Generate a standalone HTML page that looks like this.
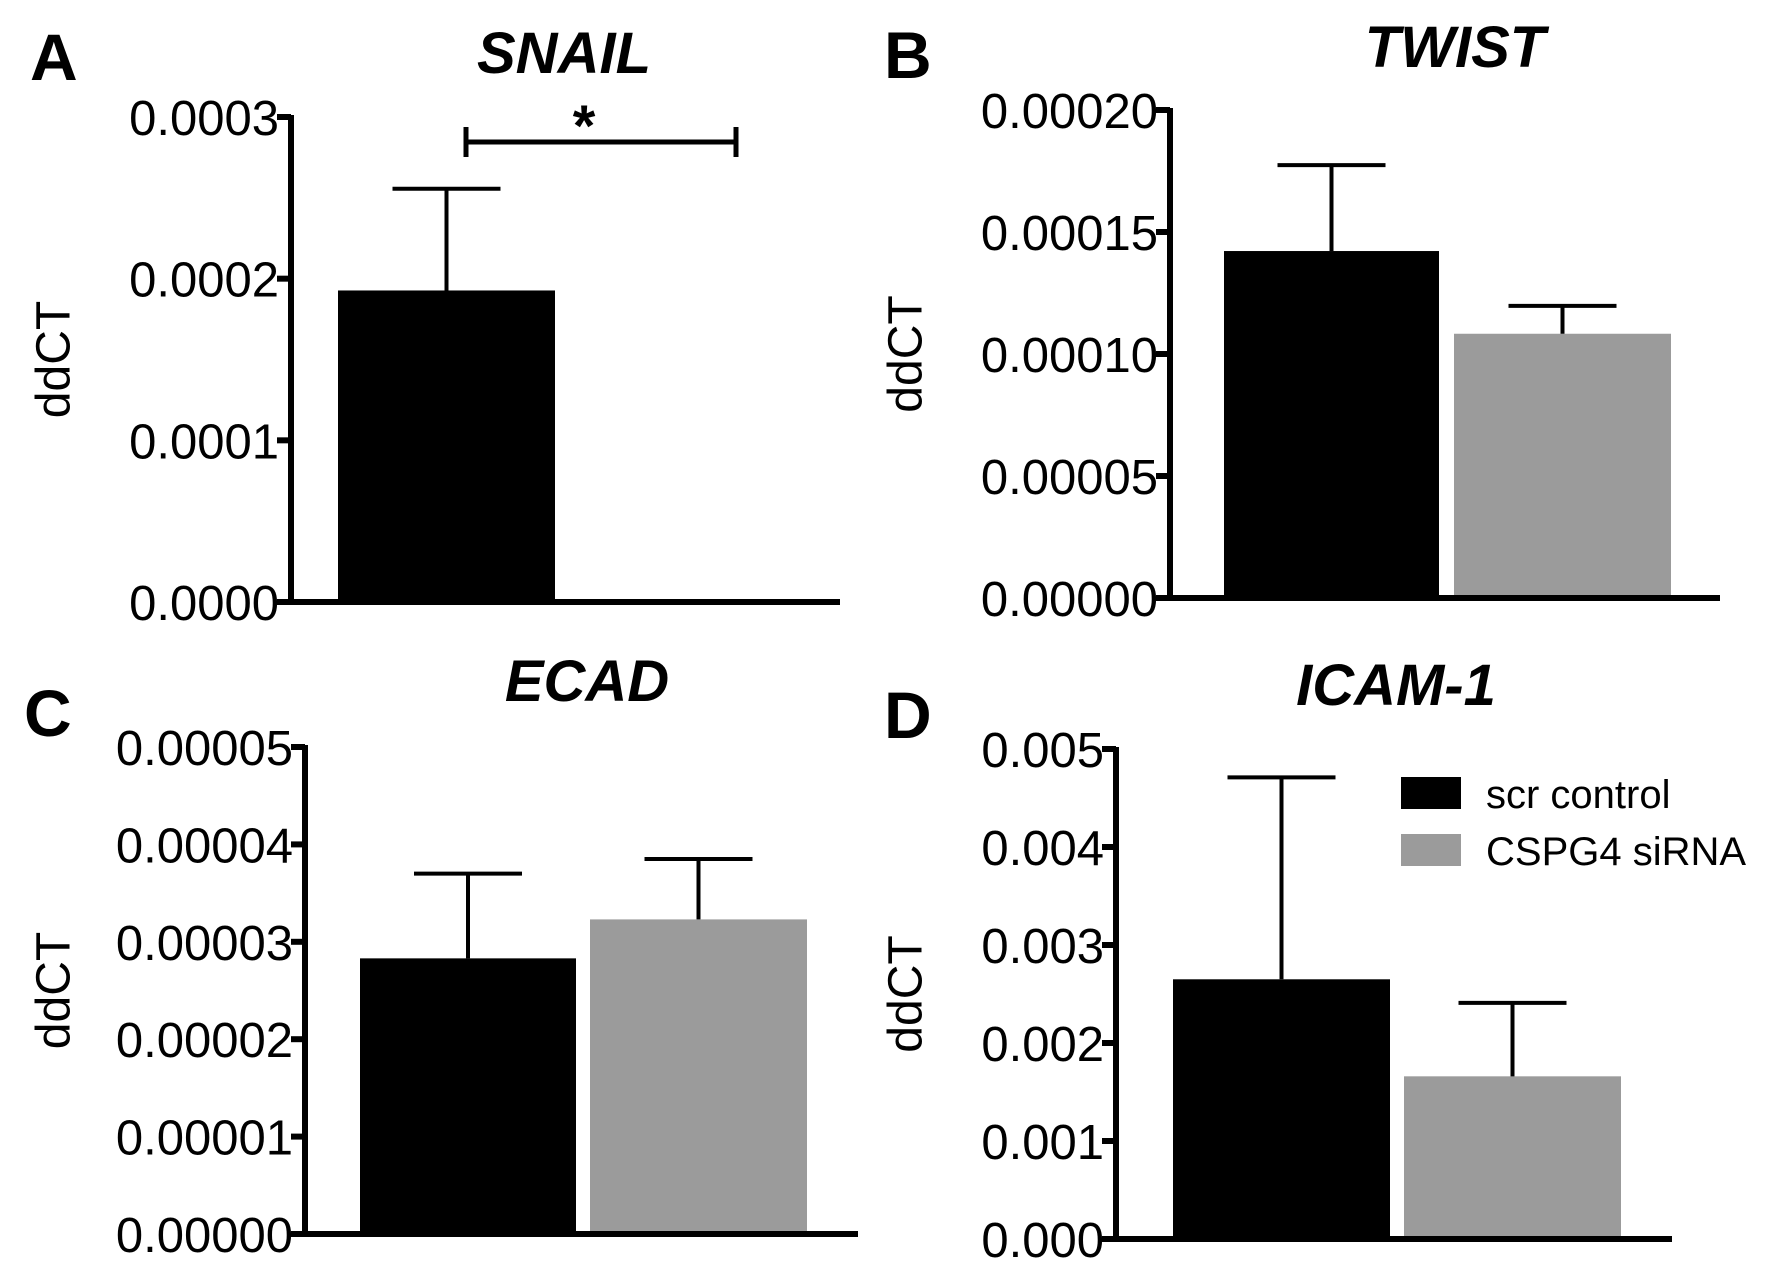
<!DOCTYPE html>
<html><head><meta charset="utf-8"><style>
html,body{margin:0;padding:0;background:#fff}
svg{display:block}
text{font-family:"Liberation Sans",Arial,sans-serif}
</style></head><body>
<svg id="fig" width="1770" height="1279" viewBox="0 0 1770 1279" xmlns="http://www.w3.org/2000/svg"></svg>
<script>
const categories = ["scr control", "CSPG4 siRNA"];
const snailValues = [0.0001927, null];
const snailErrors = [0.0002556, null];
const twistValues = [0.0001422, 0.0001083];
const twistErrors = [0.0001774, 0.0001197];
const ecadValues = [0.0000283, 0.0000323];
const ecadErrors = [0.0000370, 0.0000385];
const icamValues = [0.00265, 0.00166];
const icamErrors = [0.00471, 0.00241];
const snailTicks = ["0.0000","0.0001","0.0002","0.0003"];
const twistTicks = ["0.00000","0.00005","0.00010","0.00015","0.00020"];
const ecadTicks = ["0.00000","0.00001","0.00002","0.00003","0.00004","0.00005"];
const icamTicks = ["0.000","0.001","0.002","0.003","0.004","0.005"];
const colors = ["#000000","#9b9b9b"];

const NS="http://www.w3.org/2000/svg";
const svg=document.getElementById('fig');
function mk(tag,attrs,parent){const e=document.createElementNS(NS,tag);for(const k in attrs)e.setAttribute(k,attrs[k]);(parent||svg).appendChild(e);return e;}

const panels=[
 {id:"a",letter:"A",title:"SNAIL",vals:snailValues,errs:snailErrors,ticks:snailTicks,ax:291,y0:602,yT:117,xEnd:840,bars:[[338,555],[null,null]],lx:30,ly:80,tx:564,ty:73,yl:54},
 {id:"b",letter:"B",title:"TWIST",vals:twistValues,errs:twistErrors,ticks:twistTicks,ax:1170,y0:598,yT:110,xEnd:1720,bars:[[1224,1439],[1454,1671]],lx:884,ly:78,tx:1455,ty:67,yl:906},
 {id:"c",letter:"C",title:"ECAD",vals:ecadValues,errs:ecadErrors,ticks:ecadTicks,ax:305,y0:1234,yT:747,xEnd:858,bars:[[360,576],[590,807]],lx:24,ly:736,tx:587,ty:701,yl:54},
 {id:"d",letter:"D",title:"ICAM-1",vals:icamValues,errs:icamErrors,ticks:icamTicks,ax:1116,y0:1239,yT:749,xEnd:1672,bars:[[1173,1390],[1404,1621]],lx:884,ly:738,tx:1396,ty:705,yl:906}
];

panels.forEach(p=>{
  const g=mk('g',{});
  
  
  const maxV=parseFloat(p.ticks[p.ticks.length-1]);
  const y=v=>p.y0-(v/maxV)*(p.y0-p.yT);
  const L=mk('text',{x:p.lx,y:p.ly,'font-size':66,'font-weight':'bold'},g);L.textContent=p.letter;
  
  
  const T=mk('text',{x:p.tx,y:p.ty,'font-size':58,'font-weight':'bold','font-style':'italic','text-anchor':'middle'},g);T.textContent=p.title;
  
  
  const yc=(p.y0+p.yT)/2;
  const YL=mk('text',{x:p.yl,y:yc,'font-size':48,'text-anchor':'middle','dominant-baseline':'central',transform:`rotate(-90 ${p.yl} ${yc})`},g);YL.textContent="ddCT";
  
  
  p.vals.forEach((v,i)=>{
    if(v==null)return;
    const [x1,x2]=p.bars[i];
    const r=mk('rect',{x:x1,y:y(v),width:x2-x1,height:p.y0-y(v),fill:colors[i]},g);
    
    
    const cx=(x1+x2)/2, ye=y(p.errs[i]);
    const eb=mk('path',{d:`M${cx} ${y(v)}V${ye}M${cx-54} ${ye}H${cx+54}`,stroke:'#000','stroke-width':4,fill:'none'},g);
    
    
  });
  const ya=mk('line',{x1:p.ax,y1:p.yT-2,x2:p.ax,y2:p.y0+3,stroke:'#000','stroke-width':6},g);
  
  
  const xa=mk('line',{x1:p.ax-14,y1:p.y0,x2:p.xEnd,y2:p.y0,stroke:'#000','stroke-width':6},g);
  
  
  p.ticks.forEach((t,i)=>{
    const ty=y(parseFloat(t));
    const tk=mk('line',{x1:p.ax-14,y1:ty,x2:p.ax,y2:ty,stroke:'#000','stroke-width':6},g);
    
    
    const tl=mk('text',{x:p.ax-12,y:ty+18,'font-size':49,'text-anchor':'end'},g);tl.textContent=t;
    
    
  });
});

const sig=mk('path',{d:'M466 142H736M466 127V157M736 127V157',stroke:'#000','stroke-width':5,fill:'none'});


const star=mk('text',{x:584,y:146,'font-size':58,'font-weight':'bold','text-anchor':'middle'});star.textContent='*';



categories.forEach((c,i)=>{
  const yy=777+i*57;
  const s=mk('rect',{x:1401,y:yy,width:60,height:32,fill:colors[i]});
  
  
  const t=mk('text',{x:1486,y:yy+31,'font-size':40},null);t.textContent=c;
  
  
});
</script>
</body></html>
